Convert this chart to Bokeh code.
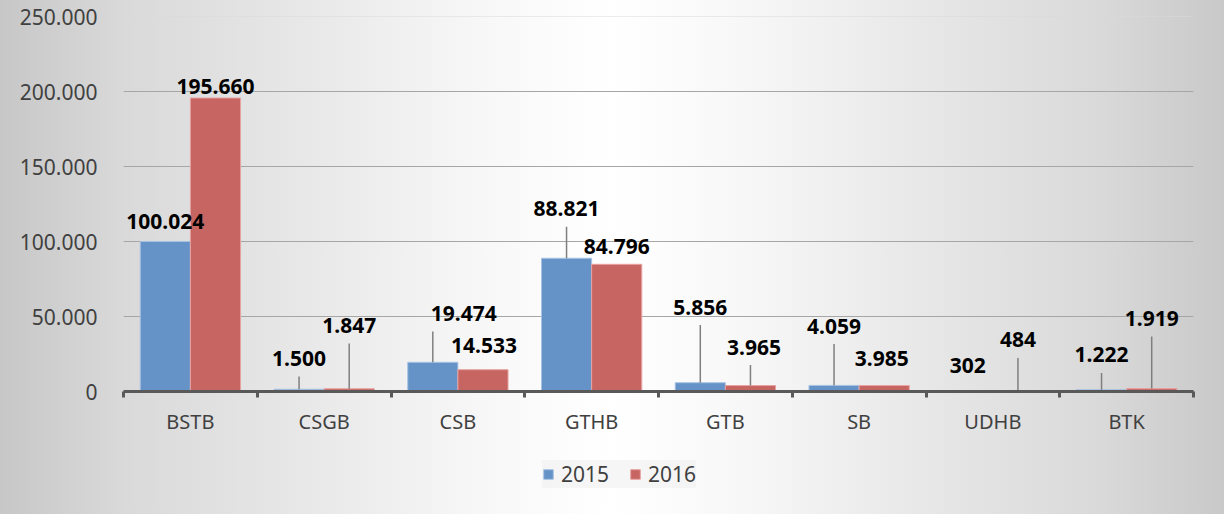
from bokeh.plotting import figure
from bokeh.layouts import column
from bokeh.models import ColumnDataSource, FixedTicker, Span, Legend, LegendItem, Range1d
from bokeh.transform import dodge
from bokeh.core.properties import value
from bokeh.embed import file_html
from bokeh.resources import INLINE

# ---------------- data ----------------
categories = ["BSTB", "CSGB", "CSB", "GTHB", "GTB", "SB", "UDHB", "BTK"]
series_names = ["2015", "2016"]
values_2015 = [100024, 1500, 19474, 88821, 5856, 4059, 302, 1222]
values_2016 = [195660, 1847, 14533, 84796, 3965, 3985, 484, 1919]
y_ticks = [0, 50000, 100000, 150000, 200000, 250000]
y_tick_labels = ["0", "50.000", "100.000", "150.000", "200.000", "250.000"]

# ---------------- label placement (style, in screen px) ----------------
lift_2015 = [19.6, 30.7, 48.7, 49.4, 75.7, 59.4, 25.5, 34.7]
shift_2015 = [0, 0, 31, 0, 0, 0, 0, 0]
lift_2016 = [11.7, 63.2, 24.6, 18.0, 38.5, 27.0, 50.8, 70.1]
shift_2016 = [0, 0, 1, 0, 3.5, -2.5, 0, 0]
LEADER_GAP = 18      # px between label centre and leader top
LEADER_MIN = 10      # leader drawn only if longer than this

# ---------------- layout / style ----------------
W, H = 1226, 519
H_MAIN = 445
H_LEG = H - H_MAIN
LEFT, RIGHT, TOP = 123, 33, 16
BOTTOM = H_MAIN - 391
FRAME_H = H_MAIN - TOP - BOTTOM
Y_MAX = 250000
UNITS_PER_PX = Y_MAX / FRAME_H
BAR_W = 0.375
OFF = BAR_W / 2

BLUE, BLUE_EDGE = "#6592C7", "#A9C3E3"
RED, RED_EDGE = "#C76562", "#E6A3A1"
TEXT = "#404040"
FONT = "Noto Sans"
GRAD = ("linear-gradient(to right, #c7c7c7 0%, #d9d9d9 10%, #e8e8e8 25%, "
        "#f8f8f8 40%, #ffffff 50%, #f8f8f8 60%, #e8e8e8 75%, #d9d9d9 90%, "
        "#c9c9c9 100%)")


def fmt(v):
    return f"{v:,}".replace(",", ".")


positions = [i + 0.5 for i in range(len(categories))]

src = ColumnDataSource(dict(
    pos=positions,
    v2015=values_2015,
    v2016=values_2016,
    lab2015=[fmt(v) for v in values_2015],
    lab2016=[fmt(v) for v in values_2016],
    dx2015=shift_2015,
    dx2016=shift_2016,
    dy2015=[-d for d in lift_2015],
    dy2016=[-d for d in lift_2016],
))


def leaders(vals, lifts):
    pos, y0, y1 = [], [], []
    for p_, v, l in zip(positions, vals, lifts):
        length = l - LEADER_GAP
        if length > LEADER_MIN:
            pos.append(p_)
            y0.append(v)
            y1.append(v + length * UNITS_PER_PX)
    return ColumnDataSource(dict(pos=pos, y0=y0, y1=y1))


lead15 = leaders(values_2015, lift_2015)
lead16 = leaders(values_2016, lift_2016)

p = figure(
    width=W, height=H_MAIN,
    x_range=Range1d(0, len(categories)),
    y_range=Range1d(0, Y_MAX),
    output_backend="svg",
    toolbar_location=None,
    min_border_left=LEFT, min_border_right=RIGHT,
    min_border_top=TOP, min_border_bottom=BOTTOM,
)
p.styles = {"background": f"{GRAD} 0 0 / 1224px 100% no-repeat, #ffffff"}
p.background_fill_alpha = 0
p.border_fill_alpha = 0
p.outline_line_color = None

# grid
p.xgrid.grid_line_color = None
p.ygrid.ticker = FixedTicker(ticks=y_ticks[1:-1])
p.ygrid.grid_line_color = "#a6a6a6"
p.ygrid.grid_line_width = 1
p.add_layout(Span(location=y_ticks[-1], dimension="width",
                  line_color="#dadada", line_width=1))

# y axis
yax = p.yaxis[0]
yax.ticker = FixedTicker(ticks=y_ticks)
yax.major_label_overrides = dict(zip(y_ticks, y_tick_labels))
yax.axis_line_color = None
yax.major_tick_line_color = None
yax.minor_tick_line_color = None
yax.major_tick_out = 0
yax.major_label_standoff = 26
yax.major_label_text_font = FONT
yax.major_label_text_font_size = "21px"
yax.major_label_text_color = TEXT

# x axis
xax = p.xaxis[0]
xax.ticker = FixedTicker(ticks=positions, minor_ticks=list(range(len(categories) + 1)))
xax.major_label_overrides = dict(zip(positions, categories))
xax.axis_line_color = "#595959"
xax.axis_line_width = 3
xax.major_tick_line_color = None
xax.major_tick_out = 0
xax.major_tick_in = 0
xax.minor_tick_line_color = "#595959"
xax.minor_tick_line_width = 3
xax.minor_tick_out = 6
xax.minor_tick_in = 0
xax.major_label_standoff = 10
xax.major_label_text_font = FONT
xax.major_label_text_font_size = "20px"
xax.major_label_text_color = TEXT

# bars
r1 = p.vbar(x=dodge("pos", -OFF, range=p.x_range), top="v2015", width=BAR_W,
            source=src, fill_color=BLUE, line_color=BLUE_EDGE, line_width=1)
r2 = p.vbar(x=dodge("pos", OFF, range=p.x_range), top="v2016", width=BAR_W,
            source=src, fill_color=RED, line_color=RED_EDGE, line_width=1)

# leader lines
for s, o in ((lead15, -OFF), (lead16, OFF)):
    p.segment(x0=dodge("pos", o, range=p.x_range), y0="y0",
              x1=dodge("pos", o, range=p.x_range), y1="y1",
              source=s, line_color="#7f7f7f", line_width=1.5)

# data labels
for lab, dx, dy, o, top in (("lab2015", "dx2015", "dy2015", -OFF, "v2015"),
                            ("lab2016", "dx2016", "dy2016", OFF, "v2016")):
    p.text(x=dodge("pos", o, range=p.x_range), y=top, text=lab,
           x_offset=dx, y_offset=dy, source=src,
           text_font=value(FONT), text_font_style="bold",
           text_font_size="21px", text_color="#000000",
           text_align="center", text_baseline="middle")

# ---------------- legend strip ----------------
# same series drawn in a strip whose y-range lies far above the data, so only
# the legend keys are visible
pl = figure(
    width=W, height=H_LEG,
    x_range=Range1d(0, len(categories)), y_range=Range1d(2 * Y_MAX, 3 * Y_MAX),
    output_backend="svg", toolbar_location=None,
    x_axis_location=None, y_axis_location=None,
    min_border=0,
)
pl.title = None
pl.styles = {"background": f"{GRAD} 0 0 / 1224px {514 - H_MAIN}px no-repeat, #ffffff"}
pl.background_fill_alpha = 0
pl.border_fill_alpha = 0
pl.outline_line_color = None
pl.xgrid.visible = False
pl.ygrid.visible = False
k1 = pl.vbar(x=dodge("pos", -OFF, range=pl.x_range), top="v2015", width=BAR_W,
             source=src, fill_color=BLUE, line_color=BLUE_EDGE, line_width=1)
k2 = pl.vbar(x=dodge("pos", OFF, range=pl.x_range), top="v2016", width=BAR_W,
             source=src, fill_color=RED, line_color=RED_EDGE, line_width=1)

legend = Legend(
    items=[LegendItem(label=series_names[0], renderers=[k1]),
           LegendItem(label=series_names[1], renderers=[k2])],
    orientation="horizontal",
    location=(419, 31),
    glyph_width=12, glyph_height=12,
    label_standoff=7, spacing=20, padding=10, margin=0,
    label_height=24,
    label_text_font=FONT, label_text_font_size="21px", label_text_color=TEXT,
    background_fill_color="#f0f0f0", background_fill_alpha=0.6,
    border_line_color=None,
)
pl.add_layout(legend)

layout = column(p, pl, spacing=0)
open("out.html", "w").write(file_html(layout, INLINE))
